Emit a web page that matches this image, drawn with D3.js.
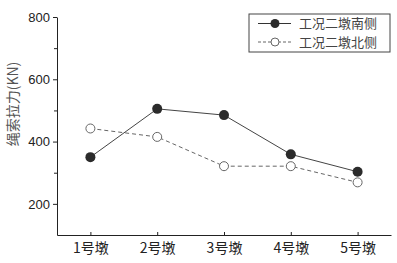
<!DOCTYPE html>
<html lang="zh">
<head>
<meta charset="UTF-8">
<title>绳索拉力</title>
<script src="https://d3js.org/d3.v7.min.js"></script>
<style>
  body { margin: 0; background: #fff; }
  svg { display: block; font-family: 'Liberation Sans', 'Noto Sans CJK SC', sans-serif; }
  .axis path, .axis line { stroke: #222; }
  .axis text { fill: #222; }
</style>
</head>
<body>
<svg width="397" height="263"></svg>
<script>
// data
var piers = ["1号墩", "2号墩", "3号墩", "4号墩", "5号墩"];
var southSide = [350, 505, 485, 359, 303];
var northSide = [442, 415, 321, 321, 269];
var seriesNames = ["工况二墩南侧", "工况二墩北侧"];
var yTicks = [200, 400, 600, 800];
var yMinor = [300, 500, 700];

var svg = d3.select("svg");
var plotLeft = 57, plotRight = 391, plotTop = 17, plotBottom = 235;

var x = d3.scalePoint().domain(piers).range([plotLeft, plotRight]).padding(0.5);
var y = d3.scaleLinear().domain([100, 800]).range([plotBottom, plotTop]);

// x axis: ticks point inward
var xAxis = svg.append("g")
    .attr("class", "axis")
    .attr("transform", "translate(0," + plotBottom + ")")
    .call(d3.axisBottom(x).tickSize(-3).tickSizeOuter(0).tickPadding(7));
xAxis.selectAll("text")
    .style("font-family", "'Noto Sans CJK SC', sans-serif")
    .style("font-size", "14px")
    .attr("dy", "0.75em");

svg.append("g")
    .attr("class", "axis")
    .attr("transform", "translate(" + plotLeft + ",0)")
    .call(d3.axisLeft(y).tickValues(yTicks).tickSize(4).tickSizeOuter(0).tickPadding(3))
    .selectAll("text")
    .style("font-family", "'Liberation Sans', sans-serif")
    .style("font-size", "13px");

svg.append("g")
    .attr("class", "axis")
    .attr("transform", "translate(" + plotLeft + ",0)")
    .call(d3.axisLeft(y).tickValues(yMinor).tickSize(3).tickFormat("").tickSizeOuter(0))
    .select(".domain").remove();

// y label
svg.append("text")
    .attr("transform", "translate(18,104) rotate(-90)")
    .attr("text-anchor", "middle")
    .style("font-family", "'Noto Sans CJK SC', sans-serif")
    .style("font-size", "14px")
    .style("fill", "#555")
    .text("绳索拉力(KN)");

var line = d3.line()
    .x(function(d, i) { return x(piers[i]); })
    .y(function(d) { return y(d); });

// north side (dashed, open)
svg.append("path")
    .datum(northSide)
    .attr("fill", "none")
    .attr("stroke", "#666")
    .attr("stroke-width", 1)
    .attr("stroke-dasharray", "4,3")
    .attr("d", line);

// south side (solid, filled)
svg.append("path")
    .datum(southSide)
    .attr("fill", "none")
    .attr("stroke", "#444")
    .attr("stroke-width", 1)
    .attr("d", line);

svg.selectAll(".north")
    .data(northSide)
    .enter().append("circle")
    .attr("cx", function(d, i) { return x(piers[i]); })
    .attr("cy", function(d) { return y(d); })
    .attr("r", 4.5)
    .attr("fill", "#fff")
    .attr("stroke", "#666");

svg.selectAll(".south")
    .data(southSide)
    .enter().append("circle")
    .attr("cx", function(d, i) { return x(piers[i]); })
    .attr("cy", function(d) { return y(d); })
    .attr("r", 5)
    .attr("fill", "#2b2b2b");

// legend
var lg = svg.append("g").attr("transform", "translate(249,14)");
lg.append("rect")
    .attr("width", 141).attr("height", 38)
    .attr("fill", "#fff").attr("stroke", "#444");

var styles = [
    {stroke: "#333", dash: null, fill: "#2b2b2b", mstroke: "none", r: 4.5},
    {stroke: "#666", dash: "3,2", fill: "#fff", mstroke: "#666", r: 4}
];
seriesNames.forEach(function(name, i) {
    var row = lg.append("g").attr("transform", "translate(0," + (9.5 + i * 18.5) + ")");
    row.append("line")
        .attr("x1", 9).attr("x2", 42)
        .attr("stroke", styles[i].stroke)
        .attr("stroke-dasharray", styles[i].dash);
    row.append("circle")
        .attr("cx", 26).attr("r", styles[i].r)
        .attr("fill", styles[i].fill)
        .attr("stroke", styles[i].mstroke);
    row.append("text")
        .attr("x", 50).attr("dy", "0.36em")
        .style("font-family", "'Noto Sans CJK SC', sans-serif")
        .style("font-size", "13px")
        .style("fill", "#444")
        .text(name);
});
</script>
</body>
</html>
